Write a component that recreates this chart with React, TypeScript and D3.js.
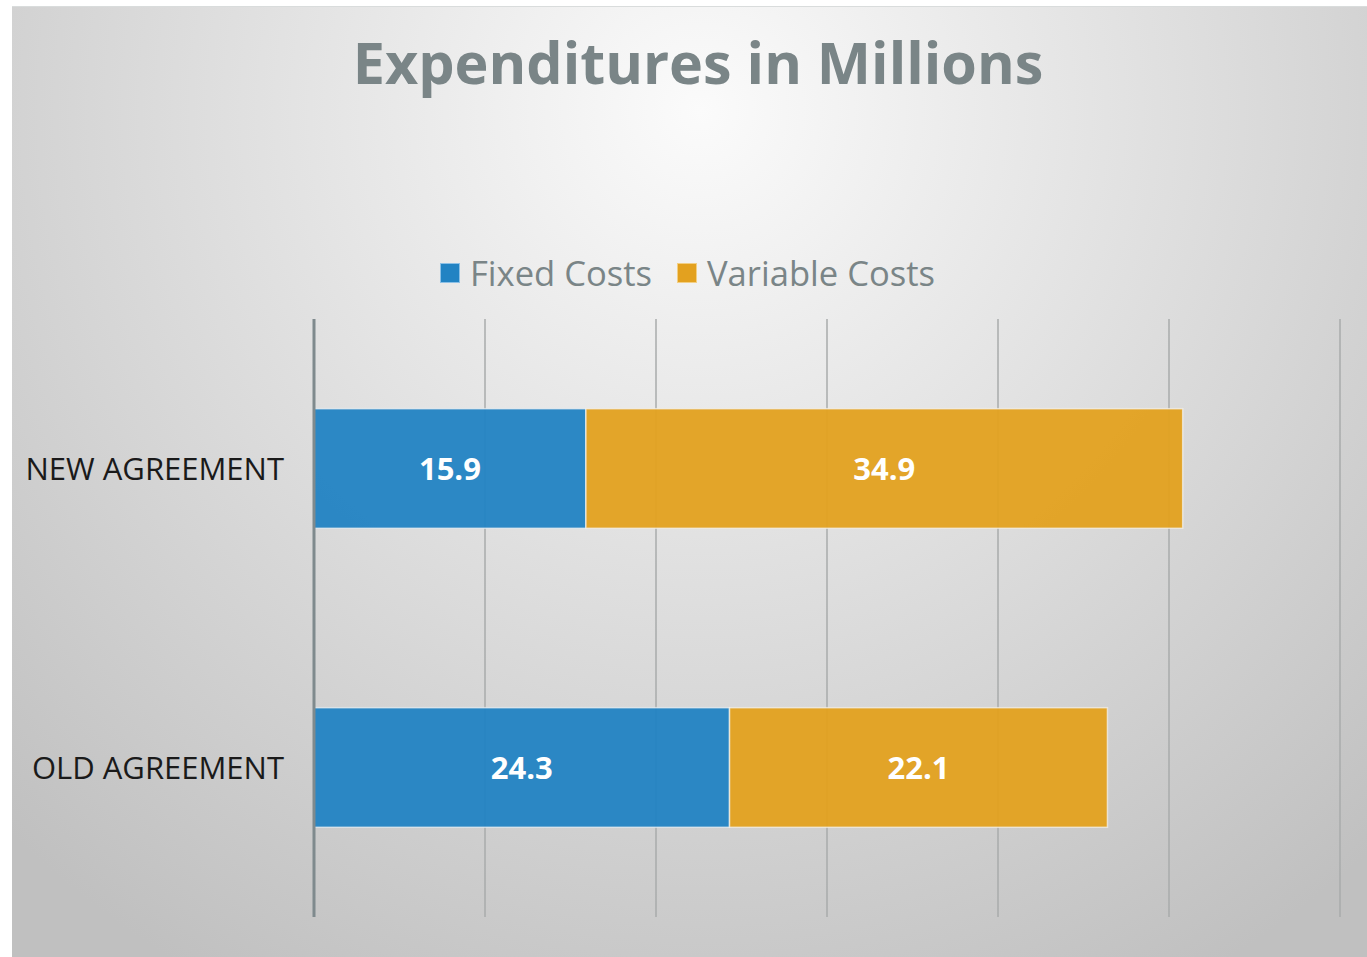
import React from "react";
import * as d3 from "d3";

const categories = ["NEW AGREEMENT", "OLD AGREEMENT"];
const seriesNames = ["Fixed Costs", "Variable Costs"];
const fixedCosts = [15.9, 24.3];
const variableCosts = [34.9, 22.1];
const xTicks = [0, 10, 20, 30, 40, 50, 60];
const colors = ["#2283c3", "#e3a11f"];

export default function App() {
  const W = 1367, H = 957;
  const left = 314, right = 1340, top = 319, bottom = 917;
  const x = d3.scaleLinear().domain([0, 60]).range([left, right]);
  const y = d3.scaleBand().domain(categories).range([top, bottom]).paddingInner(0.6).paddingOuter(0.3);
  const rows = categories.map((c, i) => ({ c, vals: [fixedCosts[i], variableCosts[i]] }));
  const stacked = d3.stack<any>().keys(["0", "1"]).value((d: any, k) => d.vals[+k])(rows as any);
  const font = "'Open Sans', 'Noto Sans', sans-serif";
  return (
    <svg width={W} height={H} style={{ position: "absolute", left: 0, top: 0 }}>
      <defs>
        <radialGradient id="bg" cx="700" cy="110" r="1000" gradientUnits="userSpaceOnUse">
          <stop offset="0" stopColor="#fbfbfb" />
          <stop offset="1" stopColor="#c0c0c0" />
        </radialGradient>
      </defs>
      <rect x={0} y={0} width={W} height={H} fill="#ffffff" />
      <rect x={12} y={6} width={W - 12} height={H - 6} fill="url(#bg)" />
      <line x1={12} x2={W} y1={6.5} y2={6.5} stroke="#d9dcdc" strokeWidth={1} />
      <text x={698} y={84} textAnchor="middle" fontFamily={font} fontWeight={700} fontSize={57.5} fill="#7a8587">
        Expenditures in Millions
      </text>
      {/* legend */}
      <g fontFamily={font} fontSize={34.6} fill="#7a8587">
        <rect x={440.5} y={263.5} width={19} height={19} fill={colors[0]} stroke="#8cc0e6" strokeWidth={1} />
        <text x={470} y={286}>{seriesNames[0]}</text>
        <rect x={677.5} y={263.5} width={19} height={19} fill={colors[1]} stroke="#f2cf85" strokeWidth={1} />
        <text x={707} y={286}>{seriesNames[1]}</text>
      </g>
      {/* gridlines */}
      {xTicks.slice(1).map((t) => (
        <line key={t} x1={x(t)} x2={x(t)} y1={top} y2={bottom} stroke="#a9abab" strokeWidth={1.5} />
      ))}
      {/* bars */}
      {stacked.map((s, si) =>
        s.map((d: any, i) => (
          <rect
            key={si + "-" + i}
            x={x(d[0])}
            y={y(categories[i])}
            width={x(d[1]) - x(d[0])}
            height={y.bandwidth()}
            fill={colors[si]}
            fillOpacity={0.95}
            stroke="#f3f3f3"
            strokeOpacity={0.7}
            strokeWidth={1.5}
          />
        ))
      )}
      {/* data labels */}
      {stacked.map((s, si) =>
        s.map((d: any, i) => (
          <text
            key={"l" + si + "-" + i}
            x={(x(d[0]) + x(d[1])) / 2}
            y={(y(categories[i]) as number) + y.bandwidth() / 2 + 11}
            textAnchor="middle"
            fontFamily={font}
            fontWeight={700}
            fontSize={31}
            fill="#ffffff"
          >
            {(d[1] - d[0]).toFixed(1)}
          </text>
        ))
      )}
      {/* axis line */}
      <line x1={left} x2={left} y1={top} y2={bottom} stroke="#7f8a8d" strokeWidth={3} />
      {/* category labels */}
      {categories.map((c) => (
        <text key={c} x={284} y={(y(c) as number) + y.bandwidth() / 2 + 11} textAnchor="end" fontFamily={font} fontSize={31} fill="#1a1a1a">
          {c}
        </text>
      ))}
    </svg>
  );
}
